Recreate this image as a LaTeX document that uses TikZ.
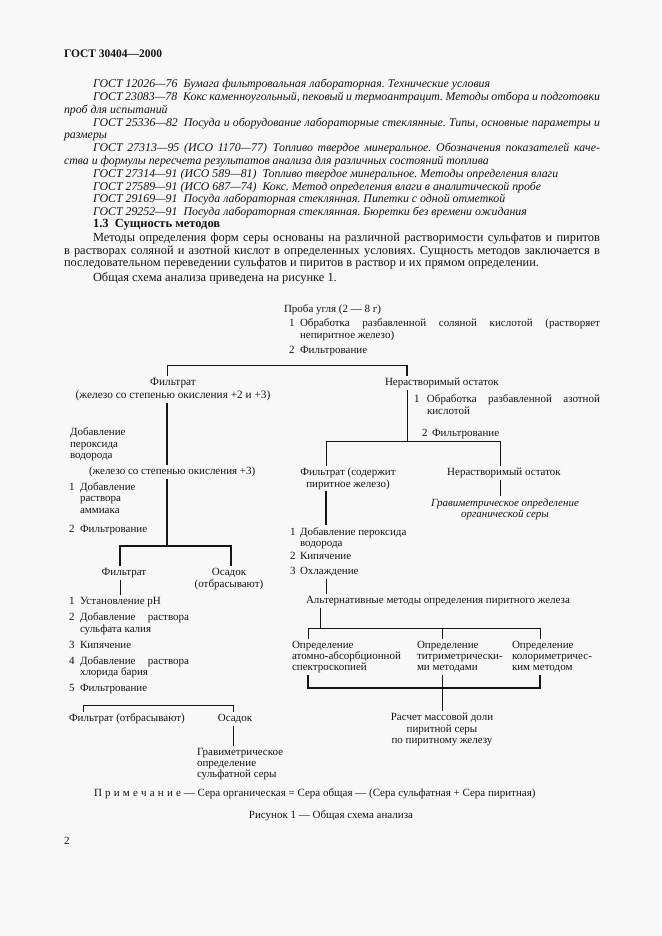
\documentclass[tikz,border=0pt]{standalone}
\usepackage{fontspec}
\setmainfont{Liberation Serif}
\usetikzlibrary{positioning, calc}
\definecolor{pagebg}{RGB}{248,248,248}
\definecolor{ink}{RGB}{20,20,20}
\frenchspacing
\newcommand{\itemno}[2][11pt]{\makebox[#1][l]{#2}}
\newcommand{\justline}[2]{\makebox[#1][s]{#2}}
\newcommand{\lsp}{\hspace{3.2pt}}
% multi-line nodes: the base point is the baseline of the last line
\tikzset{
  txt/.style={inner sep=0pt, outer sep=2pt, anchor=base west, align=left, text=ink, font=\fontsize{11}{12}\selectfont},
  ctr/.style={txt, anchor=base, align=center},
  ref/.style={txt, font=\fontsize{11.85}{12.7}\selectfont\itshape},
  body/.style={txt, font=\fontsize{12.4}{12.5}\selectfont},
  thinln/.style={draw=ink, line width=0.6pt},
  midln/.style={draw=ink, line width=0.9pt},
  thickln/.style={draw=ink, line width=1.4pt},
}
\begin{document}
\begin{tikzpicture}[x=1pt,y=-1pt]
\fill[pagebg] (0,0) rectangle (661,936);
\useasboundingbox (0,0) rectangle (661,936);

% page text
\node[txt, font=\fontsize{11.5}{12}\selectfont\bfseries] (hdr) at (62,58) {ГОСТ 30404—2000};
\node[ref] (ref1) at (91,87.5) {ГОСТ 12026—76\enskip Бумага фильтровальная лабораторная. Технические условия};
\node[ref] (ref2) at (62,113.2) {\hspace*{29pt}\justline{507pt}{ГОСТ 23083—78\enskip Кокс каменноугольный, пековый и термоантрацит. Методы отбора и подготовки}\\проб для испытаний};
\node[ref] (ref3) at (62,139) {\hspace*{29pt}\justline{507pt}{ГОСТ 25336—82\enskip Посуда и оборудование лабораторные стеклянные. Типы, основные параметры и}\\размеры};
\node[ref] (ref4) at (62,164.5) {\hspace*{29pt}\justline{507pt}{ГОСТ 27313—95 (ИСО 1170—77)\enskip Топливо твердое минеральное. Обозначения показателей каче-}\\ства и формулы пересчета результатов анализа для различных состояний топлива};
\node[ref] (ref5) at (91,177.5) {ГОСТ 27314—91 (ИСО 589—81)\enskip Топливо твердое минеральное. Методы определения влаги};
\node[ref] (ref6) at (91,190.5) {ГОСТ 27589—91 (ИСО 687—74)\enskip Кокс. Метод определения влаги в аналитической пробе};
\node[ref] (ref7) at (91,202.5) {ГОСТ 29169—91\enskip Посуда лабораторная стеклянная. Пипетки с одной отметкой};
\node[ref] (ref8) at (91,215.5) {ГОСТ 29252—91\enskip Посуда лабораторная стеклянная. Бюретки без времени ожидания};
\node[body, font=\fontsize{12.5}{12.5}\selectfont\bfseries] (sec) at (91,227.5) {1.3\enskip Сущность методов};
\node[body] (par1) at (62,266.5) {\hspace*{29pt}\justline{507pt}{Методы определения форм серы основаны на различной растворимости сульфатов и пиритов}\\\justline{536pt}{в растворах соляной и азотной кислот в определенных условиях. Сущность методов заключается в}\\последовательном переведении сульфатов и пиритов в раствор и их прямом определении.};
\node[body] (par2) at (91,281.5) {Общая схема анализа приведена на рисунке 1.};

% sample
\node[txt] (proba) at (282,312.5) {Проба угля (2 — 8 г)};
\node[txt] (treat1) at (287,338.5) {\itemno{1}\justline{300pt}{Обработка разбавленной соляной кислотой (растворяет}\\\hspace*{11pt}непиритное железо)};
\node[txt] (filt1) at (287,353.5) {\itemno{2}Фильтрование};

% first split
\node[ctr, font=\fontsize{11.3}{13}\selectfont] (filtA) at (173,398.5) {Фильтрат\\(железо со степенью окисления +2 и +3)};
\node[txt] (ostA) at (383,385.5) {Нерастворимый остаток};
\coordinate (b1l) at (167,365);
\coordinate (b1r) at (407,365);
\draw[midln] (b1l) -- (b1r);
\draw[thinln] (b1l) -- (b1l |- filtA.north);
\draw[thickln] (b1r) -- (b1r |- ostA.north);

% left branch
\node[txt, font=\fontsize{11}{11.5}\selectfont] (perox) at (68,458.5) {Добавление\\пероксида\\водорода};
\node[txt] (fe3) at (87,474.5) {(железо со степенью окисления +3)};
\node[txt, font=\fontsize{11}{11.5}\selectfont] (amm) at (67,513) {\itemno{1}Добавление\\\hspace*{11pt}раствора\\\hspace*{11pt}аммиака};
\node[txt] (filt2) at (67,532.5) {\itemno{2}Фильтрование};
\node[ctr] (filtB) at (124,575.5) {Фильтрат};
\node[ctr] (osB) at (229,587.5) {Осадок\\(отбрасывают)};
\coordinate (b2l) at (120,546);
\coordinate (b2m) at (167,546);
\coordinate (b2r) at (231,546);
\draw[thickln] (b1l |- filtA.south) -- (b1l |- fe3.north);
\draw[thickln] (b1l |- fe3.south) -- (b2m);
\draw[thickln] (b2l |- filtB.north) -- (b2l) -- (b2r) -- (b2r |- osB.north);

\node[txt, font=\fontsize{11}{11.5}\selectfont] (stepsB) at (67,691.5) {\itemno{1}Установление pH\\[4.5pt]\itemno{2}\justline{109pt}{Добавление раствора}\\\hspace*{11pt}сульфата калия\\[4.5pt]\itemno{3}Кипячение\\[4.5pt]\itemno{4}\justline{109pt}{Добавление раствора}\\\hspace*{11pt}хлорида бария\\[4.5pt]\itemno{5}Фильтрование};
\draw[thinln] (b2l |- filtB.south) -- (b2l |- stepsB.north);

\node[txt] (filtC) at (67,721.5) {Фильтрат (отбрасывают)};
\node[ctr] (osC) at (235,721.5) {Осадок};
\node[txt, font=\fontsize{11}{11}\selectfont] (grav2) at (195,777.5) {Гравиметрическое\\определение\\сульфатной серы};
\coordinate (b3l) at (83,705);
\coordinate (b3r) at (233,705);
\draw[thinln] (b3l |- filtC.north) -- (b3l) -- (b3r) -- (b3r |- osC.north);
\draw[thinln] (b3r |- osC.south) -- (b3r |- grav2.north);

% right branch
\node[txt] (treatA) at (412,414.5) {\itemno[13pt]{1}\justline{173pt}{Обработка разбавленной азотной}\\\hspace*{13pt}кислотой};
\node[txt] (filtA2) at (420,436.5) {\itemno[10pt]{2}Фильтрование};
\node[ctr, font=\fontsize{11}{11.5}\selectfont] (filtD) at (348,487) {Фильтрат (содержит\\пиритное железо)};
\node[ctr] (ostD) at (504,475.5) {Нерастворимый остаток};
\node[ctr, font=\fontsize{11}{11}\selectfont\itshape] (gravO) at (505,517) {Гравиметрическое определение\\органической серы};
\coordinate (b4l) at (326,441);
\coordinate (b4m) at (407,441);
\coordinate (b4r) at (500,441);
\draw[thinln] (b1r |- ostA.south) -- (b4m);
\draw[midln] (b4l |- filtD.north) -- (b4l) -- (b4r) -- (b4r |- ostD.north);
\draw[thinln] (b4r |- ostD.south) -- (b4r |- gravO.north);

\node[txt, font=\fontsize{11}{11.5}\selectfont] (stepsD) at (288,574.5) {\itemno[10pt]{1}Добавление пероксида\\\hspace*{10pt}водорода\\[1.5pt]\itemno[10pt]{2}Кипячение\\[3.5pt]\itemno[10pt]{3}Охлаждение};
\node[txt] (alt) at (304,603.5) {Альтернативные методы определения пиритного железа};
\draw[thickln] (b4l |- filtD.south) -- (b4l |- stepsD.north);
\draw[thinln] (b4l |- stepsD.south) -- (b4l |- alt.north);

% methods
\node[txt, font=\fontsize{11}{11}\selectfont] (m1) at (290,670.5) {Определение\\атомно-абсорбционной\\спектроскопией};
\node[txt, font=\fontsize{11}{11}\selectfont] (m2) at (415,670.5) {Определение\\титриметрически-\\ми методами};
\node[txt, font=\fontsize{11}{11}\selectfont] (m3) at (510,670.5) {Определение\\колориметричес-\\ким методом};
\coordinate (a5) at (320,628);
\coordinate (b5l) at (308,628);
\coordinate (b5m) at (442,628);
\coordinate (b5r) at (540,628);
\draw[midln] (a5 |- alt.south) -- (a5);
\draw[thinln] (b5l |- m1.north) -- (b5l) -- (b5r) -- (b5r |- m3.north);
\draw[thinln] (b5m) -- (b5m |- m2.north);

\node[ctr, font=\fontsize{11}{11.5}\selectfont] (res) at (442,743.5) {Расчет массовой доли\\пиритной серы\\по пиритному железу};
\coordinate (b6l) at (308,688);
\coordinate (b6m) at (442,688);
\coordinate (b6r) at (540,688);
\draw[thickln] (b6l |- m1.south) -- (b6l) -- (b6r) -- (b6r |- m3.south);
\draw[thinln] (b6m |- m2.south) -- (b6m |- res.north);

% note and caption
\node[txt] (note) at (92,796.5) {П\lsp р\lsp и\lsp м\lsp е\lsp ч\lsp а\lsp н\lsp и\lsp е — Сера органическая = Сера общая — (Сера сульфатная + Сера пиритная)};
\node[ctr] (fig) at (331,818.5) {Рисунок 1 — Общая схема анализа};
\node[txt] (pg) at (62,844.5) {2};
\end{tikzpicture}
\end{document}
